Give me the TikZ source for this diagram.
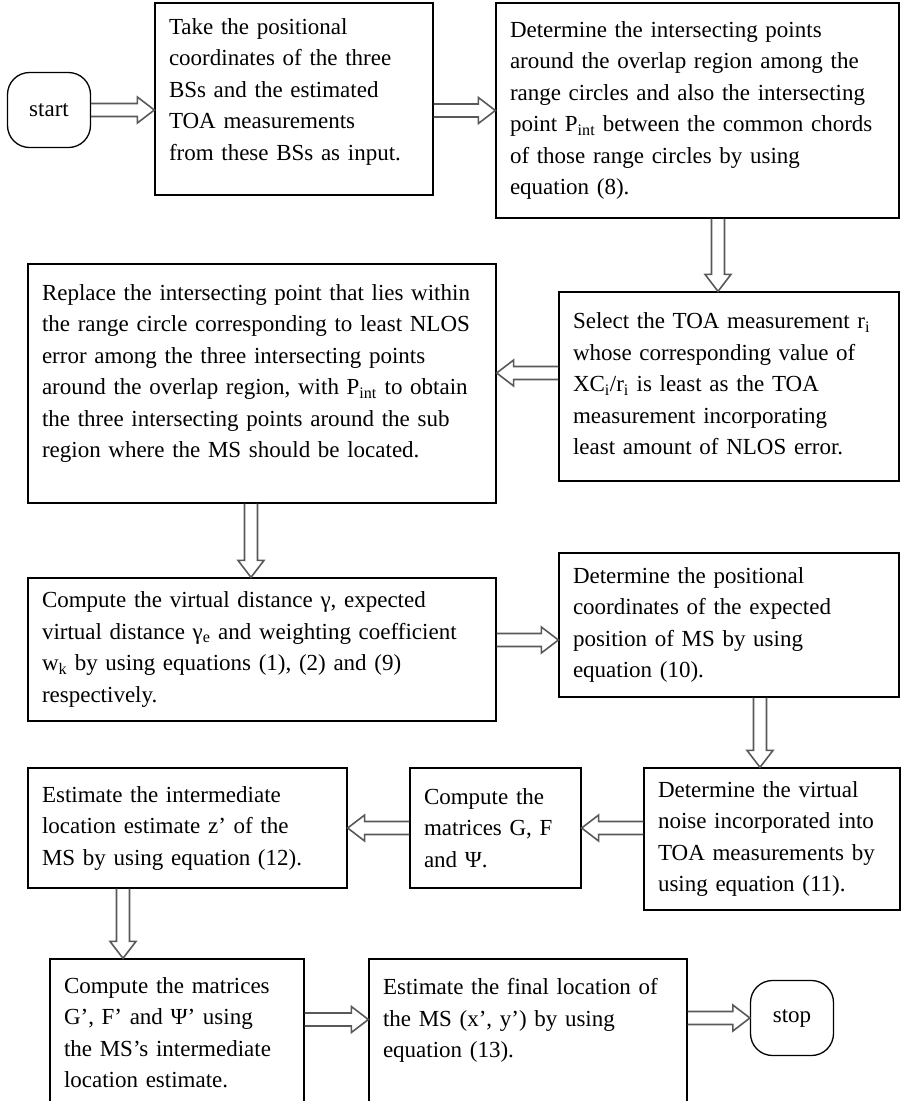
\documentclass[tikz,border=0pt]{standalone}
\usepackage{fontspec}
\setmainfont{Liberation Serif}
\usepackage{tikz}
\usetikzlibrary{calc,positioning}
\tikzstyle{process} = [rectangle, draw=black, line width=1.3pt, inner xsep=14pt, inner ysep=5pt, align=left, font=\fontsize{23pt}{31.5pt}\selectfont]
\tikzstyle{terminal} = [rectangle, rounded corners=22pt, draw=black, line width=1.3pt, minimum width=83pt, minimum height=75pt, font=\fontsize{23pt}{31.5pt}\selectfont]
\tikzstyle{arrowline} = [draw=black!65, line width=1.6pt, line join=miter]
\newcommand{\hollowarrow}[2]{%
  \coordinate (ha-h) at ($(#2)!17pt!(#1)$);
  \draw[arrowline] ($(#1)!6.5pt!90:(#2)$) -- ($(ha-h)!6.5pt!90:(#2)$) -- ($(ha-h)!13pt!90:(#2)$) -- (#2) -- ($(ha-h)!13pt!-90:(#2)$) -- ($(ha-h)!6.5pt!-90:(#2)$) -- ($(#1)!6.5pt!-90:(#2)$);}

\begin{document}
\begin{tikzpicture}[x=1pt, y=-1pt]
\useasboundingbox (0,0) rectangle (903,1101);
\fill[white] (0,0) rectangle (903,1101);
\clip (0,0) rectangle (903,1101);

\node[terminal] (start) at (49,110) {start};
\node[process, minimum width=278pt, text width=250pt, minimum height=192pt, text depth=145pt] (take) at (294,99)
  {Take the positional\\ coordinates of the three\\ BSs and the estimated\\ TOA measurements\\ from these BSs as input.};
\node[process, minimum width=403pt, text width=375pt, minimum height=215pt] (crossing) at (697.5,110.5)
  {Determine the intersecting points\\ around the overlap region among the\\ range circles and also the intersecting\\ point P\textsubscript{int} between the common chords\\ of those range circles by using\\ equation (8).};
\node[process, minimum width=340pt, text width=312pt, minimum height=189pt, text depth=131pt] (select) at (729,386.5)
  {Select the TOA measurement r\textsubscript{i}\\ whose corresponding value of\\ XC\textsubscript{i}/r\textsubscript{i} is least as the TOA\\ measurement incorporating\\ least amount of NLOS error.};
\node[process, minimum width=468pt, text width=440pt, minimum height=239pt, text depth=182pt] (replace) at (262,383.5)
  {Replace the intersecting point that lies within\\ the range circle corresponding to least NLOS\\ error among the three intersecting points\\ around the overlap region, with P\textsubscript{int} to obtain\\ the three intersecting points around the sub\\ region where the MS should be located.};
\node[process, minimum width=468pt, text width=440pt, minimum height=143pt] (virtual) at (262,649.5)
  {Compute the virtual distance γ, expected\\ virtual distance γ\textsubscript{e} and weighting coefficient\\ w\textsubscript{k} by using equations (1), (2) and (9)\\ respectively.};
\node[process, minimum width=340pt, text width=312pt, minimum height=144pt] (expected) at (729,625)
  {Determine the positional\\ coordinates of the expected\\ position of MS by using\\ equation (10).};
\node[process, minimum width=256pt, text width=228pt, minimum height=142pt] (noise) at (772,839)
  {Determine the virtual\\ noise incorporated into\\ TOA measurements by\\ using equation (11).};
\node[process, minimum width=171pt, text width=143pt, minimum height=120pt] (matrices) at (495.5,828)
  {Compute the\\ matrices G, F\\ and Ψ.};
\node[process, minimum width=319pt, text width=291pt, minimum height=120pt] (midest) at (187.5,828)
  {Estimate the intermediate\\ location estimate z’ of the\\ MS by using equation (12).};
\node[process, minimum width=254pt, text width=226pt, minimum height=147pt] (matprime) at (177,1032.5)
  {Compute the matrices\\ G’, F’ and Ψ’ using\\ the MS’s intermediate\\ location estimate.};
\node[process, minimum width=318pt, text width=290pt, minimum height=147pt, text depth=92pt] (final) at (528,1032.5)
  {Estimate the final location of\\ the MS (x’, y’) by using\\ equation (13).};
\node[terminal] (stop) at (792,1018) {stop};

\coordinate (c3) at ([xshift=-11pt]select.north);
\coordinate (c4) at ([yshift=13.5pt]select.west);
\coordinate (c5) at ([xshift=-11pt]replace.south);
\coordinate (c6) at ([yshift=9.5pt]virtual.east);
\coordinate (c7) at ([xshift=-12pt]noise.north);
\coordinate (c8) at ([yshift=11pt]noise.west);
\coordinate (c10) at ([xshift=-54pt]matprime.north);
\coordinate (c11) at ([yshift=13pt]matprime.east);

\hollowarrow{start.east}{take.west |- start.east}
\hollowarrow{take.east |- crossing.west}{crossing.west}
\hollowarrow{crossing.south -| c3}{c3}
\hollowarrow{c4}{replace.east |- c4}
\hollowarrow{c5}{virtual.north -| c5}
\hollowarrow{c6}{expected.west |- c6}
\hollowarrow{expected.south -| c7}{c7}
\hollowarrow{c8}{matrices.east}
\hollowarrow{matrices.west}{midest.east}
\hollowarrow{midest.south -| c10}{c10}
\hollowarrow{c11}{final.west |- c11}
\hollowarrow{final.east |- stop.west}{stop.west}
\end{tikzpicture}
\end{document}
